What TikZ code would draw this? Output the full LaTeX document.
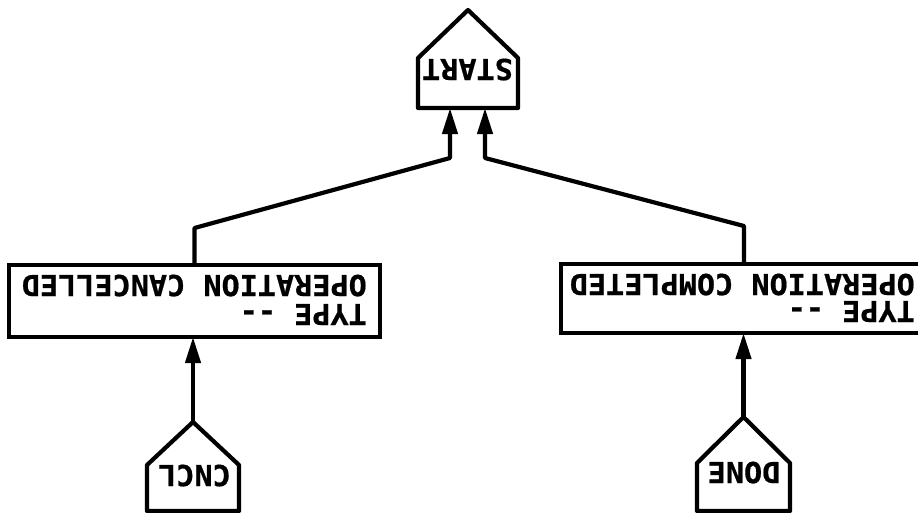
\documentclass[tikz,border=0pt]{standalone}
\usepackage{fontspec}
\newfontfamily\plotfont{DejaVu Sans Mono}[FakeStretch=1.04, FakeBold=0.6]
\usetikzlibrary{arrows.meta,calc}
\begin{document}
\begin{tikzpicture}[x=1pt,y=-1pt,
  line/.style={line width=4.2pt, line join=round},
  arr/.style={line, -{Triangle[length=26pt,width=15pt]}},
  txt/.style={font=\plotfont\bfseries\fontsize{29}{32}\selectfont, rotate=180, inner sep=0pt},
  body/.style={draw=none, inner sep=0pt, outer sep=0pt},
  box/.style={draw, line width=4.2pt, inner sep=0pt, outer sep=0pt}]
\useasboundingbox (0,0) rectangle (918,512);
\fill[white] (0,0) rectangle (918,512);

% START house
\node[body, minimum width=100pt, minimum height=50pt] (start) at (468,83) {};
\coordinate (startapex) at (468,10);
\draw[line] (start.south west) -- (start.north west) -- (startapex) -- (start.north east) -- (start.south east) -- cycle;
\node[txt, anchor=base] (starttxt) at (467.5,59) {START};

% CNCL house
\node[body, minimum width=92pt, minimum height=46pt] (cncl) at (193,488) {};
\coordinate (cnclapex) at (193,422);
\draw[line] (cncl.south west) -- (cncl.north west) -- (cnclapex) -- (cncl.north east) -- (cncl.south east) -- cycle;
\node[txt, anchor=base] (cncltxt) at (194.5,465) {CNCL};

% DONE house
\node[body, minimum width=93pt, minimum height=48pt] (done) at (743.5,487) {};
\coordinate (doneapex) at (743.5,417);
\draw[line] (done.south west) -- (done.north west) -- (doneapex) -- (done.north east) -- (done.south east) -- cycle;
\node[txt, anchor=base] (donetxt) at (744,462) {DONE};

% boxes
\node[box, minimum width=371pt, minimum height=72pt] (cbox) at (194.5,301) {};
\node[txt, anchor=base west] (cboxa) at (367,275) {OPERATION CANCELLED};
\node[txt, anchor=base west] (cboxb) at (367,304) {TYPE -{}-};

\node[box, minimum width=366pt, minimum height=69pt] (dbox) at (744,298.5) {};
\node[txt, anchor=base west] (dboxa) at (915,274) {OPERATION COMPLETED};
\node[txt, anchor=base west] (dboxb) at (915,301) {TYPE -{}-};

% connectors
\draw[arr] (cbox.north) -- ++(0,-37) -- ($(start.south)+(-18,50)$) -- ($(start.south)+(-18,0)$);
\draw[arr] (dbox.north) -- ++(0,-38) -- ($(start.south)+(17,50)$) -- ($(start.south)+(17,0)$);
\draw[arr] (cnclapex) -- (cnclapex |- cbox.south);
\draw[arr] (doneapex) -- (doneapex |- dbox.south);
\end{tikzpicture}
\end{document}
